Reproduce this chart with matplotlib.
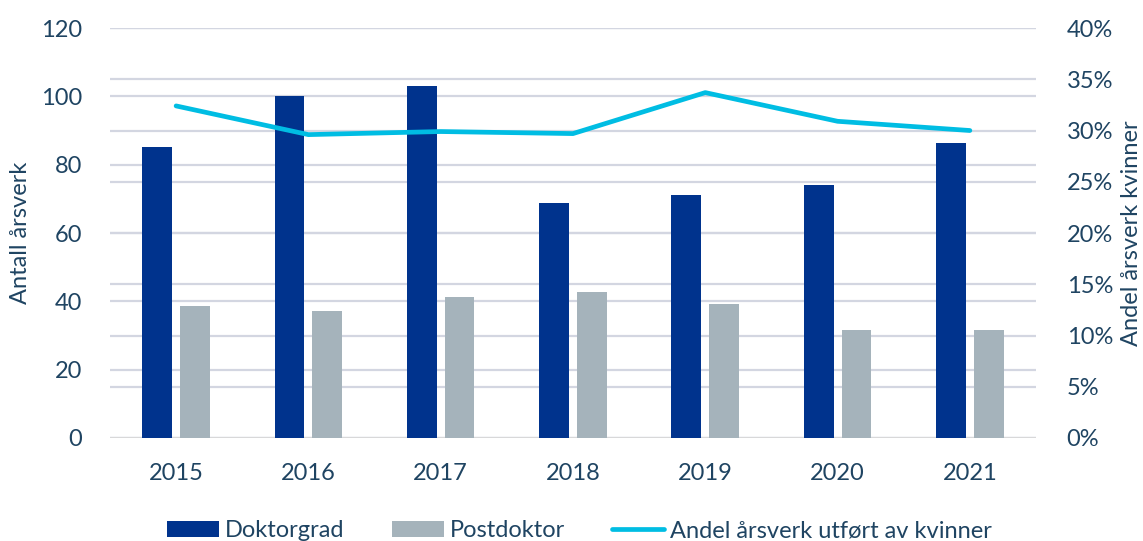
import numpy as np
import matplotlib
matplotlib.use("Agg")
import matplotlib.pyplot as plt
from matplotlib.ticker import FuncFormatter

# ---------------------------------------------------------------------------
# Data
# ---------------------------------------------------------------------------
years = ["2015", "2016", "2017", "2018", "2019", "2020", "2021"]
doktorgrad = [85.1, 100.1, 103.1, 68.7, 71.0, 74.0, 86.2]
postdoktor = [38.6, 37.1, 41.3, 42.7, 39.1, 31.6, 31.6]
andel_kvinner = [0.324, 0.296, 0.299, 0.297, 0.337, 0.309, 0.300]

TEXT = "#1f4462"
GRID = "#d3d6e1"
C_DOK = "#00338d"
C_POST = "#a5b3bb"
C_LINE = "#00bde3"
FS = 17

plt.rcParams["font.family"] = ["Lato", "DejaVu Sans"]

fig = plt.figure(figsize=(11.43, 5.41), dpi=100)
rect = [0.0962, 0.1904, 0.8102, 0.7578]

# bottom layer: right axis with its grid
ax2 = fig.add_axes(rect)
# middle layer: bars + left axis
ax = fig.add_axes(rect, sharex=ax2)
# top layer: line on the percentage scale
ax3 = fig.add_axes(rect, sharex=ax2, sharey=ax2)

x = np.arange(len(years))
w = 0.225
ax.bar(x - 0.143, doktorgrad, w, color=C_DOK, label="Doktorgrad", zorder=3)
ax.bar(x + 0.143, postdoktor, w, color=C_POST, label="Postdoktor", zorder=3)
ax3.plot(x, andel_kvinner, color=C_LINE, linewidth=3.4,
         solid_capstyle="round", label="Andel årsverk utført av kvinner")

# --- right axis (percent) ---
ax2.set_xlim(-0.5, len(years) - 0.5)
ax2.set_ylim(0, 0.40)
ax2.set_yticks(np.arange(0, 0.401, 0.05))
ax2.yaxis.set_major_formatter(FuncFormatter(lambda v, _: f"{v * 100:.0f}%"))
ax2.yaxis.tick_right()
ax2.yaxis.set_label_position("right")
ax2.yaxis.grid(True, color=GRID, linewidth=1.6)
ax2.tick_params(axis="x", labelbottom=False)
ax2.set_ylabel("Andel årsverk kvinner", color=TEXT, fontsize=FS, rotation=90)
ax2.yaxis.set_label_coords(1.092, 0.5)

# --- left axis (count) ---
ax.set_ylim(0, 120)
ax.set_yticks(range(0, 121, 20))
ax.set_xticks(x)
ax.set_xticklabels(years)
ax.yaxis.grid(True, color=GRID, linewidth=1.6, zorder=0)
ax.set_axisbelow(True)
ax.set_ylabel("Antall årsverk", color=TEXT, fontsize=FS)
ax.yaxis.set_label_coords(-0.085, 0.5)
ax.axhline(0, color="#d9d9d9", linewidth=2, zorder=2)

ax3.axis("off")
for a in (ax, ax2):
    a.patch.set_visible(False)
    for s in a.spines.values():
        s.set_visible(False)
    a.tick_params(length=0, labelsize=FS, colors=TEXT)
ax.tick_params(axis="x", pad=18)
ax.tick_params(axis="y", pad=20)
ax2.tick_params(axis="y", pad=22)

h1, l1 = ax.get_legend_handles_labels()
h2, l2 = ax3.get_legend_handles_labels()
fig.legend(h1 + h2, l1 + l2, loc="lower center", ncol=3, frameon=False,
           bbox_to_anchor=(0.507, -0.04), fontsize=FS, labelcolor=TEXT,
           handlelength=2.2, handletextpad=0.25, columnspacing=2.0)

fig.savefig("out.png", dpi=100)
